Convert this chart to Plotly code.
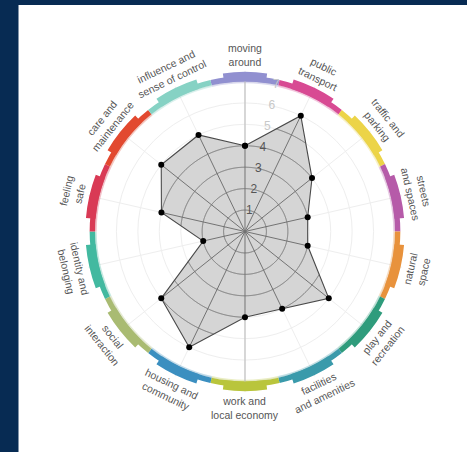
import numpy as np
import plotly.graph_objects as go

# ---------------- data ----------------
categories = [
    "moving around", "public transport", "traffic and parking", "streets and spaces",
    "natural space", "play and recreation", "facilities and amenities",
    "work and local economy", "housing and community", "social interaction",
    "identity and belonging", "feeling safe", "care and maintenance",
    "influence and sense of control",
]
label_lines = [
    "moving<br>around", "public<br>transport", "traffic and<br>parking", "streets<br>and spaces",
    "natural<br>space", "play and<br>recreation", "facilities<br>and amenities",
    "work and<br>local economy", "housing and<br>community", "social<br>interaction",
    "identity and<br>belonging", "feeling<br>safe", "care and<br>maintenance",
    "influence and<br>sense of control",
]
scores = [4, 6, 4, 3, 3, 5, 4, 4, 6, 5, 2, 4, 5, 5]
ring_colors = [
    "#9190d0", "#d84a93", "#ecd448", "#b65ba9", "#e8923c", "#2f9c7c", "#3a9aab",
    "#b9c53c", "#3b8fc0", "#a9bb72", "#42b9a0", "#d93a55", "#e2492f", "#86d2c4",
]
tick_values = [1, 2, 3, 4, 5, 6, 7]
tick_labels = ["1", "2", "3", "4", "5", "6", "7"]

# ---------------- geometry ----------------
W, H = 467, 452
cx, cy = 245.0, 231.5          # centre of the dial, px from top-left
R7 = 150.0                      # px radius of score 7
rmax = 7.5
Rpx = R7 * rmax / 7.0
n = len(categories)
step = 360.0 / n
angles = [i * step for i in range(n)]

fig = go.Figure()

# full vertical axis line
fig.add_trace(go.Scatterpolar(r=[7, 0, 7], theta=[0, 0, 180], mode="lines",
                              line=dict(color="#b8b8b8", width=1), hoverinfo="skip",
                              showlegend=False))

# polygon fill
fig.add_trace(go.Scatterpolar(r=scores + [scores[0]], theta=angles + [angles[0]],
                              mode="lines", fill="toself", fillcolor="#d5d5d5",
                              line=dict(width=0, color="rgba(0,0,0,0)"),
                              hoverinfo="skip", showlegend=False))

# dark grid inside polygon: spokes
sr, st = [], []
for a, v in zip(angles, scores):
    sr += [0, v, None]
    st += [a, a, None]
fig.add_trace(go.Scatterpolar(r=sr, theta=st, mode="lines",
                              line=dict(color="#737373", width=1),
                              hoverinfo="skip", showlegend=False))

# dark grid inside polygon: circle arcs clipped to polygon
th = np.deg2rad(np.array(angles))
sc = np.array(scores, dtype=float)
P = np.c_[sc * np.sin(th), sc * np.cos(th)]


def boundary(phi):
    i = int(phi // step) % n
    j = (i + 1) % n
    A, B = P[i], P[j]
    E = B - A
    d = np.array([np.sin(np.deg2rad(phi)), np.cos(np.deg2rad(phi))])
    return (A[0] * E[1] - A[1] * E[0]) / (d[0] * E[1] - d[1] * E[0])


phis = np.arange(0, 360.0001, 0.25)
rho = np.array([boundary(p % 360) for p in phis])
ar, at = [], []
for k in tick_values:
    if k >= max(scores):
        continue
    inside = rho >= k
    prev = False
    for p, ins in zip(phis, inside):
        if ins:
            ar.append(k)
            at.append(float(p))
        elif prev:
            ar.append(None)
            at.append(None)
        prev = ins
    ar.append(None)
    at.append(None)
fig.add_trace(go.Scatterpolar(r=ar, theta=at, mode="lines",
                              line=dict(color="#737373", width=1),
                              hoverinfo="skip", showlegend=False))

# radial scale labels
fig.add_trace(go.Scatterpolar(r=tick_values, theta=[12] * len(tick_values), mode="text",
                              text=tick_labels, textposition="middle center",
                              textfont=dict(family="Liberation Sans, Arial", size=12,
                                            color=["#555555" if v <= 4 else "#c8c8c8"
                                                   for v in tick_values]),
                              hoverinfo="skip", showlegend=False))

# polygon outline + points
fig.add_trace(go.Scatterpolar(r=scores + [scores[0]], theta=angles + [angles[0]],
                              mode="lines+markers",
                              line=dict(color="#4a4a4a", width=1.1),
                              marker=dict(color="#000000", size=6),
                              hoverinfo="skip", showlegend=False))

# coloured ring
fig.add_trace(go.Barpolar(r=[0.08] * n, base=[6.92] * n, theta=angles, width=[step] * n,
                          marker=dict(color=ring_colors, line=dict(width=0)), opacity=0.3,
                          hoverinfo="skip", showlegend=False))
fig.add_trace(go.Barpolar(r=[0.25] * n, base=[7.0] * n, theta=angles, width=[step] * n,
                          marker=dict(color=ring_colors, line=dict(width=0)),
                          hoverinfo="skip", showlegend=False))
fig.add_trace(go.Barpolar(r=[0.45] * n, base=[7.0] * n, theta=angles, width=[step * 0.62] * n,
                          marker=dict(color=ring_colors, line=dict(width=0)),
                          hoverinfo="skip", showlegend=False))

# ---------------- labels around the ring ----------------
annotations = []
Rlab = 176.0
for a, txt in zip(angles, label_lines):
    rad = np.deg2rad(a)
    x = (cx + Rlab * np.sin(rad)) / W
    y = 1 - (cy - Rlab * np.cos(rad)) / H
    if 90 < a < 270:
        ang = a - 180
    else:
        ang = a if a <= 90 else a - 360
    annotations.append(dict(x=x, y=y, xref="paper", yref="paper", text=txt,
                            showarrow=False, textangle=ang, xanchor="center",
                            yanchor="middle",
                            font=dict(family="Liberation Sans, Arial", size=10.5,
                                      color="#555555")))

fig.update_layout(
    width=W, height=H,
    margin=dict(l=0, r=0, t=0, b=0),
    paper_bgcolor="white",
    plot_bgcolor="white",
    showlegend=False,
    annotations=annotations,
    barmode="overlay",
    polar=dict(
        domain=dict(x=[(cx - Rpx) / W, (cx + Rpx) / W],
                    y=[1 - (cy + Rpx) / H, 1 - (cy - Rpx) / H]),
        bgcolor="white",
        radialaxis=dict(range=[0, rmax], tickvals=tick_values, showticklabels=False,
                        showline=False, ticks="", gridcolor="#eeeeee", gridwidth=1),
        angularaxis=dict(rotation=90, direction="clockwise", tickvals=angles,
                         showticklabels=False, ticks="", showline=False,
                         gridcolor="#eeeeee", gridwidth=1),
    ),
    shapes=[
        dict(type="rect", xref="paper", yref="paper", x0=0, x1=18.5 / W, y0=0, y1=1,
             fillcolor="#072b53", line=dict(width=0), layer="above"),
        dict(type="rect", xref="paper", yref="paper", x0=0, x1=1, y0=1 - 5 / H, y1=1,
             fillcolor="#072b53", line=dict(width=0), layer="above"),
    ],
)

fig.write_html("out.html", config={"displayModeBar": False},
               post_script="document.body.style.margin='0';document.body.style.overflow='hidden';")
